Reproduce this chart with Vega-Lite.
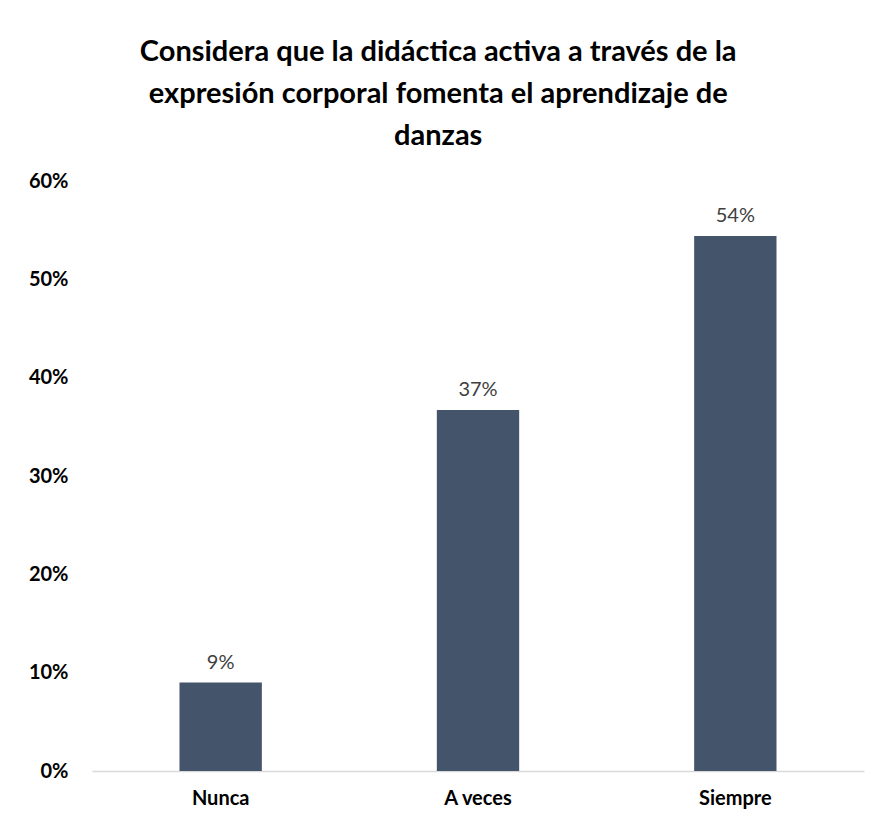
{
  "$schema": "https://vega.github.io/schema/vega-lite/v6.json",
  "autosize": {"type": "none"},
  "width": 772,
  "height": 590,
  "padding": {"left": 92, "top": 181, "right": 18, "bottom": 54},
  "background": "white",
  "config": {"view": {"stroke": null}, "font": "Lato"},
  "title": {
    "text": ["Considera que la didáctica activa a través de la", "expresión corporal fomenta el aprendizaje de", "danzas"],
    "anchor": "middle",
    "frame": "bounds",
    "font": "Lato",
    "fontSize": 29,
    "fontWeight": "bold",
    "color": "#000000",
    "lineHeight": 42,
    "offset": 20,
    "dx": -8
  },
  "data": {
    "values": [
      {"respuesta": "Nunca", "valor": 0.09, "etiqueta": "9%"},
      {"respuesta": "A veces", "valor": 0.367, "etiqueta": "37%"},
      {"respuesta": "Siempre", "valor": 0.544, "etiqueta": "54%"}
    ]
  },
  "encoding": {
    "x": {
      "field": "respuesta",
      "type": "nominal",
      "sort": null,
      "scale": {"paddingInner": 0.68, "paddingOuter": 0.34},
      "axis": {
        "title": null,
        "labelAngle": 0,
        "labelFont": "Lato",
        "labelFontSize": 20,
        "labelFontWeight": "bold",
        "labelColor": "#000000",
        "labelPadding": 17,
        "ticks": false,
        "domainColor": "#D9D9D9",
        "domainWidth": 1.5
      }
    },
    "y": {
      "field": "valor",
      "type": "quantitative",
      "scale": {"domain": [0, 0.6], "nice": false},
      "axis": {
        "title": null,
        "format": ".0%",
        "values": [0, 0.1, 0.2, 0.3, 0.4, 0.5, 0.6],
        "labelFont": "Lato",
        "labelFontSize": 20,
        "labelFontWeight": "bold",
        "labelColor": "#000000",
        "labelPadding": 24,
        "ticks": false,
        "domain": false,
        "grid": false
      }
    }
  },
  "layer": [
    {"mark": {"type": "bar", "color": "#44546A"}},
    {
      "mark": {"type": "text", "baseline": "bottom", "dy": -10, "font": "Lato", "fontSize": 20, "color": "#404040"},
      "encoding": {"text": {"field": "etiqueta"}}
    }
  ]
}
